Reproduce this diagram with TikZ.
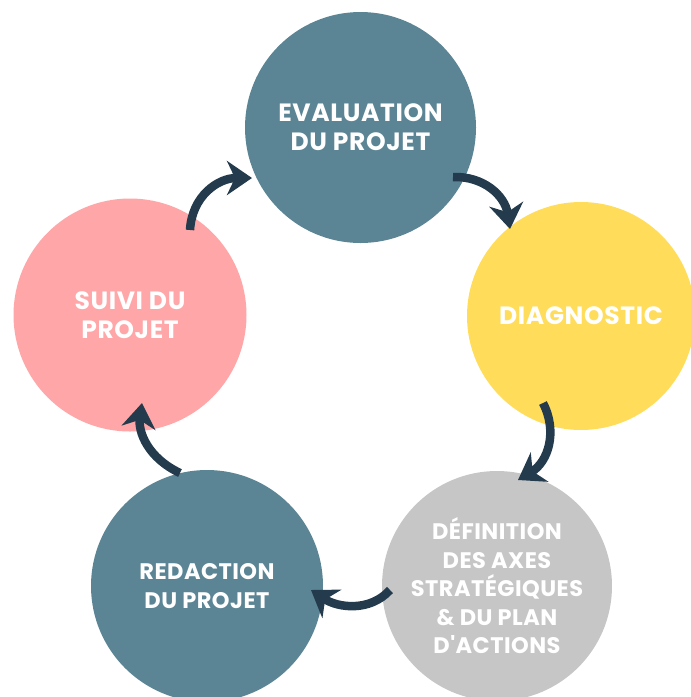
\documentclass[tikz,border=0pt]{standalone}
\usepackage{fontspec}
\setmainfont{Poppins}[Ligatures=TeXOff]
\usetikzlibrary{arrows.meta}
\definecolor{teal}{HTML}{5B8594}
\definecolor{sun}{HTML}{FFDD5B}
\definecolor{greyc}{HTML}{C6C6C6}
\definecolor{rose}{HTML}{FFA7A8}
\definecolor{ink}{HTML}{233B4D}
\tikzset{
  stage/.style={circle, draw=none, inner sep=0pt, text=white, align=center,
    font=\fontsize{25}{29}\selectfont\bfseries\addfontfeature{LetterSpace=2.5}},
  smaller/.style={font=\fontsize{22.5}{28.5}\selectfont\bfseries\addfontfeature{LetterSpace=2}},
  cyc/.style={draw=ink, line width=8.5pt,
    -{Stealth[length=25pt,width=34pt,inset=8pt]}}
}
\begin{document}
\begin{tikzpicture}[x=1pt,y=-1pt]
\useasboundingbox (0,0) rectangle (691,697);
\node[stage, fill=teal, minimum size=231pt] (eval) at (360.5,127.5) {EVALUATION\\DU PROJET};
\node[stage, fill=sun, minimum size=228pt] (diag) at (581,316) {DIAGNOSTIC};
\node[stage, smaller, fill=greyc, minimum size=230pt] (axes) at (497,586) {DÉFINITION\\DES AXES\\STRATÉGIQUES\\\& DU PLAN\\D'ACTIONS};
\node[stage, smaller, fill=teal, minimum size=232pt] (redac) at (207,586) {REDACTION\\DU PROJET};
\node[stage, fill=rose, minimum size=233pt] (suivi) at (130,315) {SUIVI DU\\PROJET};
% arrow end points
\coordinate (a1s) at (190,230); \coordinate (a1e) at (252,178);
\coordinate (a2s) at (453,177); \coordinate (a2e) at (510,229);
\coordinate (a3s) at (543,403); \coordinate (a3e) at (518,480);
\coordinate (a4s) at (390,590); \coordinate (a4e) at (311,590);
\coordinate (a5s) at (180,473); \coordinate (a5e) at (142,403);
\draw[cyc] (a1s) .. controls (192,196) and (218,178) .. (a1e);
\draw[cyc] (a2s) .. controls (484,176) and (505,196) .. (a2e);
\draw[cyc] (a3s) .. controls (558,432) and (548,462) .. (a3e);
\draw[cyc] (a4s) .. controls (370,612) and (338,608) .. (a4e);
\draw[cyc] (a5s) .. controls (148,458) and (138,432) .. (a5e);
\end{tikzpicture}
\end{document}
